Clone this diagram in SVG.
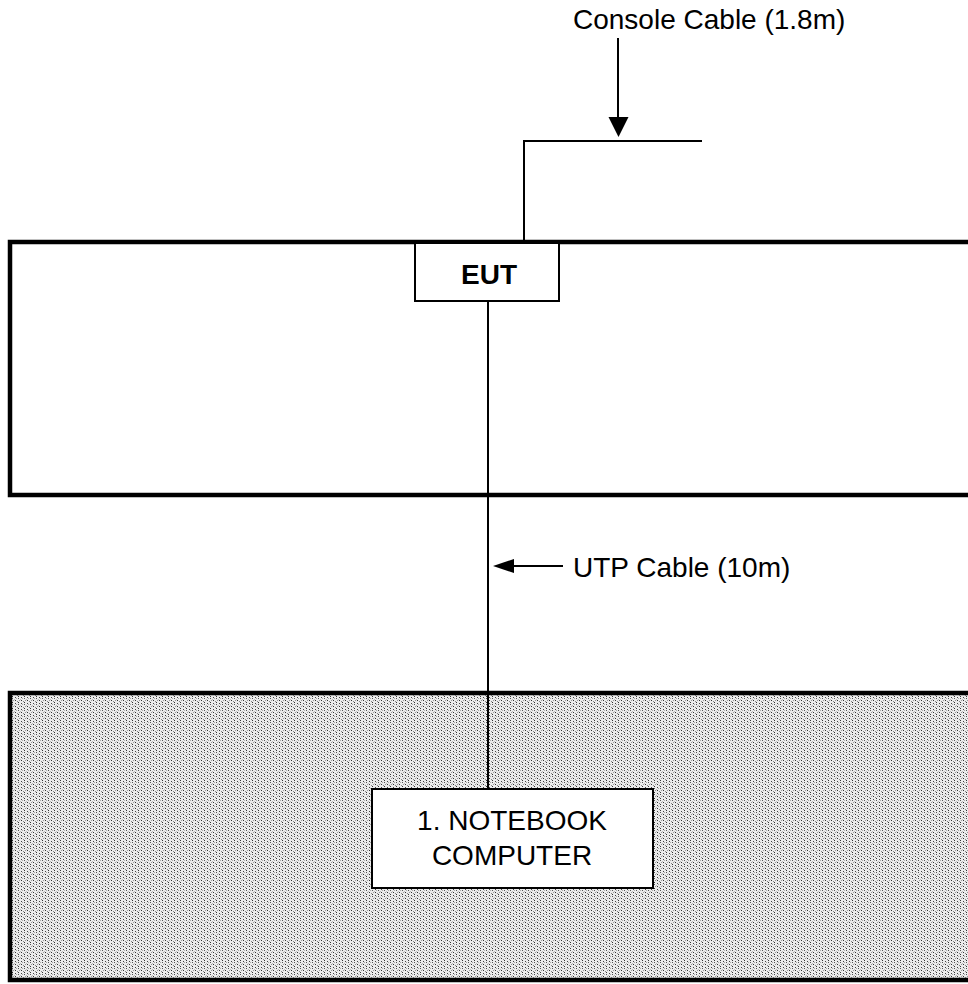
<svg xmlns="http://www.w3.org/2000/svg" width="968" height="984" viewBox="0 0 968 984">
  <style>
    .lbl { font-family: "Liberation Sans", Arial, sans-serif; font-size: 28px; fill: #000; }
    .bold { font-weight: bold; }
    .thin { stroke: #000; stroke-width: 2; fill: none; }
    .table { stroke: #000; stroke-width: 4.5; }
    .box { stroke: #000; stroke-width: 2; fill: #fff; }
  </style>
  <defs>
    <pattern id="dither" width="6" height="6" patternUnits="userSpaceOnUse">
      <rect width="6" height="6" fill="#ececec"/>
      <rect x="0" y="0" width="1" height="1" fill="#333"/>
      <rect x="0" y="2" width="1" height="1" fill="#555"/>
      <rect x="3" y="1" width="1" height="1" fill="#444"/>
      <rect x="3" y="4" width="1" height="1" fill="#333"/>
      <rect x="1" y="4" width="1" height="1" fill="#999"/>
      <rect x="4" y="2" width="1" height="1" fill="#aaa"/>
      <rect x="5" y="5" width="1" height="1" fill="#888"/>
      <rect x="2" y="3" width="1" height="1" fill="#bbb"/>
    </pattern>
  </defs>

  <g id="top-table">
    <rect class="table" x="10" y="242" width="980" height="253" fill="#fff"/>
  </g>

  <g id="bottom-table">
    <rect class="table" x="10" y="693" width="980" height="287" fill="url(#dither)"/>
  </g>

  <g id="connectors">
    <!-- console cable -->
    <polyline class="thin" points="702,141 524,141 524,242"/>
    <line class="thin" x1="618" y1="38" x2="618" y2="120"/>
    <polygon points="608.5,117 628.5,117 618.5,137" fill="#000"/>
    <!-- UTP cable -->
    <line class="thin" x1="488" y1="301" x2="488" y2="789"/>
    <line class="thin" x1="510" y1="566" x2="563" y2="566"/>
    <polygon points="493,566 514,559 514,573" fill="#000"/>
  </g>

  <g id="eut">
    <rect class="box" x="415" y="243" width="144" height="58"/>
    <text class="lbl bold" x="489" y="284" text-anchor="middle">EUT</text>
  </g>

  <g id="notebook">
    <rect class="box" x="372" y="789" width="281" height="99"/>
    <text class="lbl" x="512" y="830" text-anchor="middle">1. NOTEBOOK</text>
    <text class="lbl" x="512" y="865" text-anchor="middle">COMPUTER</text>
  </g>

  <g id="labels">
    <text class="lbl" x="573" y="29">Console Cable (1.8m)</text>
    <text class="lbl" x="573" y="577">UTP Cable (10m)</text>
  </g>
</svg>
